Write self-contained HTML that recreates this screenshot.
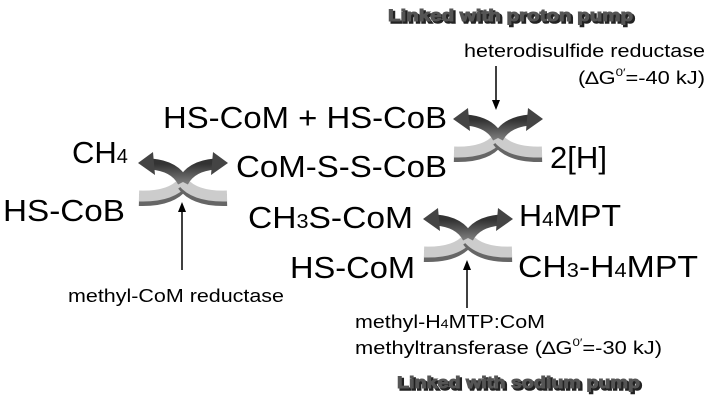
<!DOCTYPE html>
<html><head><meta charset="utf-8"><style>
html,body{margin:0;padding:0;background:#fff;}
svg{display:block;}
text{font-family:"Liberation Sans",Arial,sans-serif;fill:#000;}
.big{font-size:31px;}
.sm{font-size:18px;}
.lk{font-size:17px;font-weight:bold;fill:#555;stroke:#555;stroke-width:1;}
.sh{font-size:17px;font-weight:bold;fill:#222;stroke:#222;stroke-width:1.5;}
</style></head><body>
<svg width="716" height="401" viewBox="0 0 716 401" xmlns="http://www.w3.org/2000/svg">
<defs>
<linearGradient id="dk" x1="0" y1="0" x2="0" y2="1">
<stop offset="0" stop-color="#333"/><stop offset="1" stop-color="#777"/>
</linearGradient>
<g id="unit">
  <path d="M0,3 Q-12,19 -44,18" stroke="#666" stroke-width="12" fill="none"/>
  <path d="M0,0 Q-12,15 -44,14" stroke="#ccc" stroke-width="11" fill="none"/>
  <path d="M0,3 Q12,19 44,18" stroke="#666" stroke-width="12" fill="none"/>
  <path d="M0,0 Q12,15 44,14" stroke="#ccc" stroke-width="11" fill="none"/>
  <path d="M0,0 Q-8,-16 -32,-18" stroke="url(#dk)" stroke-width="11" fill="none"/>
  <path d="M0,0 Q8,-16 32,-18" stroke="url(#dk)" stroke-width="11" fill="none"/>
  <polygon points="-45,-19 -30,-30 -28,-7" fill="#444"/>
  <polygon points="45,-19 30,-30 28,-7" fill="#444"/>
</g>
</defs>

<text class="sh" x="390" y="23" textLength="245" lengthAdjust="spacingAndGlyphs">Linked with proton pump</text>
<text class="lk" x="388" y="21" textLength="245" lengthAdjust="spacingAndGlyphs">Linked with proton pump</text>

<text class="sm" x="464" y="57" textLength="241" lengthAdjust="spacingAndGlyphs">heterodisulfide reductase</text>
<text class="sm" x="578" y="84" textLength="127" lengthAdjust="spacingAndGlyphs">(∆G<tspan font-size="11" dy="-8">0′</tspan><tspan dy="8">=-40 kJ)</tspan></text>
<line x1="496" y1="66" x2="496" y2="102" stroke="#000" stroke-width="1.5"/>
<polygon points="492,100 500,100 496,110" fill="#000"/>

<text class="big" x="163" y="128" textLength="284" lengthAdjust="spacingAndGlyphs">HS-CoM + HS-CoB</text>
<text class="big" x="72" y="163">CH<tspan font-size="20">4</tspan></text>
<text class="big" x="236" y="177" textLength="211" lengthAdjust="spacingAndGlyphs">CoM-S-S-CoB</text>
<text class="big" x="550" y="168" textLength="57" lengthAdjust="spacingAndGlyphs">2[H]</text>
<text class="big" x="3" y="221" textLength="122" lengthAdjust="spacingAndGlyphs">HS-CoB</text>
<text class="big" x="248" y="228" textLength="165" lengthAdjust="spacingAndGlyphs">CH<tspan font-size="20">3</tspan>S-CoM</text>
<text class="big" x="519" y="226" textLength="102" lengthAdjust="spacingAndGlyphs">H<tspan font-size="20">4</tspan>MPT</text>
<text class="big" x="290" y="278" textLength="125" lengthAdjust="spacingAndGlyphs">HS-CoM</text>
<text class="big" x="518" y="277" textLength="180" lengthAdjust="spacingAndGlyphs">CH<tspan font-size="20">3</tspan>-H<tspan font-size="20">4</tspan>MPT</text>

<use href="#unit" x="183" y="182"/>
<use href="#unit" x="498" y="138"/>
<use href="#unit" x="468" y="238"/>

<line x1="182" y1="270" x2="182" y2="210" stroke="#000" stroke-width="1.5"/>
<polygon points="178,212 186,212 182,202" fill="#000"/>
<text class="sm" x="68" y="302" textLength="216" lengthAdjust="spacingAndGlyphs">methyl-CoM reductase</text>

<line x1="467" y1="308" x2="467" y2="268" stroke="#000" stroke-width="1.5"/>
<polygon points="463,270 471,270 467,260" fill="#000"/>
<text class="sm" x="355" y="328" textLength="190" lengthAdjust="spacingAndGlyphs">methyl-H<tspan font-size="12">4</tspan>MTP:CoM</text>
<text class="sm" x="355" y="354" textLength="307" lengthAdjust="spacingAndGlyphs">methyltransferase (∆G<tspan font-size="11" dy="-8">0′</tspan><tspan dy="8">=-30 kJ)</tspan></text>

<text class="sh" x="399" y="390" textLength="243" lengthAdjust="spacingAndGlyphs">Linked with sodium pump</text>
<text class="lk" x="397" y="388" textLength="243" lengthAdjust="spacingAndGlyphs">Linked with sodium pump</text>
</svg>
</body></html>
